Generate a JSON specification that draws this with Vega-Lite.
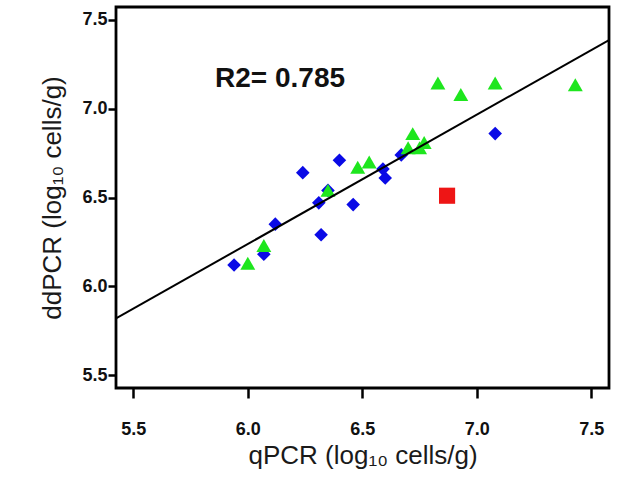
{
  "$schema": "https://vega.github.io/schema/vega-lite/v6.json",
  "width": 493,
  "height": 381,
  "autosize": "none",
  "padding": {"left": 116, "top": 7, "right": 11, "bottom": 91},
  "background": "white",
  "config": {
    "view": {"stroke": "black", "strokeWidth": 2.8},
    "font": "Liberation Sans"
  },
  "datasets": {
    "points": [
      {"qpcr": 5.94, "ddpcr": 6.12, "group": "A"},
      {"qpcr": 6.07, "ddpcr": 6.18, "group": "A"},
      {"qpcr": 6.12, "ddpcr": 6.35, "group": "A"},
      {"qpcr": 6.24, "ddpcr": 6.64, "group": "A"},
      {"qpcr": 6.31, "ddpcr": 6.47, "group": "A"},
      {"qpcr": 6.32, "ddpcr": 6.29, "group": "A"},
      {"qpcr": 6.35, "ddpcr": 6.54, "group": "A"},
      {"qpcr": 6.40, "ddpcr": 6.71, "group": "A"},
      {"qpcr": 6.46, "ddpcr": 6.46, "group": "A"},
      {"qpcr": 6.59, "ddpcr": 6.66, "group": "A"},
      {"qpcr": 6.60, "ddpcr": 6.61, "group": "A"},
      {"qpcr": 6.67, "ddpcr": 6.74, "group": "A"},
      {"qpcr": 7.08, "ddpcr": 6.86, "group": "A"},
      {"qpcr": 6.00, "ddpcr": 6.13, "group": "B"},
      {"qpcr": 6.07, "ddpcr": 6.23, "group": "B"},
      {"qpcr": 6.35, "ddpcr": 6.54, "group": "B"},
      {"qpcr": 6.48, "ddpcr": 6.67, "group": "B"},
      {"qpcr": 6.53, "ddpcr": 6.70, "group": "B"},
      {"qpcr": 6.70, "ddpcr": 6.78, "group": "B"},
      {"qpcr": 6.72, "ddpcr": 6.86, "group": "B"},
      {"qpcr": 6.75, "ddpcr": 6.78, "group": "B"},
      {"qpcr": 6.77, "ddpcr": 6.81, "group": "B"},
      {"qpcr": 6.83, "ddpcr": 7.145, "group": "B"},
      {"qpcr": 6.93, "ddpcr": 7.08, "group": "B"},
      {"qpcr": 7.08, "ddpcr": 7.145, "group": "B"},
      {"qpcr": 7.43, "ddpcr": 7.135, "group": "B"},
      {"qpcr": 6.87, "ddpcr": 6.51, "group": "C"}
    ],
    "fit": [
      {"qpcr": 5.4245, "ddpcr": 5.819},
      {"qpcr": 7.577, "ddpcr": 7.387}
    ],
    "label": [
      {"qpcr": 5.857, "ddpcr": 7.1225, "text": "R2= 0.785"}
    ]
  },
  "encoding": {
    "x": {
      "field": "qpcr", "type": "quantitative",
      "scale": {"domain": [5.4245, 7.577], "nice": false, "zero": false},
      "axis": {
        "title": "qPCR (log₁₀ cells/g)",
        "values": [5.5, 6.0, 6.5, 7.0, 7.5],
        "format": ".1f",
        "grid": false, "domain": false,
        "tickSize": 10, "tickWidth": 2.5, "tickColor": "black",
        "labelPadding": 22, "labelFontSize": 18, "labelFontWeight": "bold", "labelColor": "#111",
        "titleFontSize": 26, "titleFontWeight": "normal", "titleColor": "#1a1a1a", "titlePadding": 4
      }
    },
    "y": {
      "field": "ddpcr", "type": "quantitative",
      "scale": {"domain": [5.427, 7.573], "nice": false, "zero": false},
      "axis": {
        "title": "ddPCR (log₁₀ cells/g)",
        "values": [5.5, 6.0, 6.5, 7.0, 7.5],
        "format": ".1f",
        "grid": false, "domain": false,
        "tickSize": 8, "tickWidth": 2.5, "tickColor": "black",
        "labelPadding": 1, "labelFontSize": 18, "labelFontWeight": "bold", "labelColor": "#111",
        "titleFontSize": 26, "titleFontWeight": "normal", "titleColor": "#1a1a1a", "titlePadding": 16
      }
    }
  },
  "layer": [
    {
      "data": {"name": "points"},
      "mark": {"type": "point", "filled": true, "opacity": 1},
      "encoding": {
        "shape": {
          "field": "group", "type": "nominal",
          "scale": {"domain": ["A", "B", "C"], "range": ["diamond", "triangle-up", "square"]},
          "legend": null
        },
        "color": {
          "field": "group", "type": "nominal",
          "scale": {"domain": ["A", "B", "C"], "range": ["#0a0ae6", "#1ee61e", "#ee1515"]},
          "legend": null
        },
        "size": {
          "field": "group", "type": "nominal",
          "scale": {"domain": ["A", "B", "C"], "range": [185, 260, 110]},
          "legend": null
        }
      }
    },
    {
      "data": {"name": "fit"},
      "mark": {"type": "line", "color": "black", "strokeWidth": 2, "clip": true},
      "encoding": {}
    },
    {
      "data": {"name": "label"},
      "mark": {"type": "text", "align": "left", "baseline": "alphabetic", "fontSize": 28, "fontWeight": "bold", "color": "#111"},
      "encoding": {"text": {"field": "text"}}
    }
  ]
}
